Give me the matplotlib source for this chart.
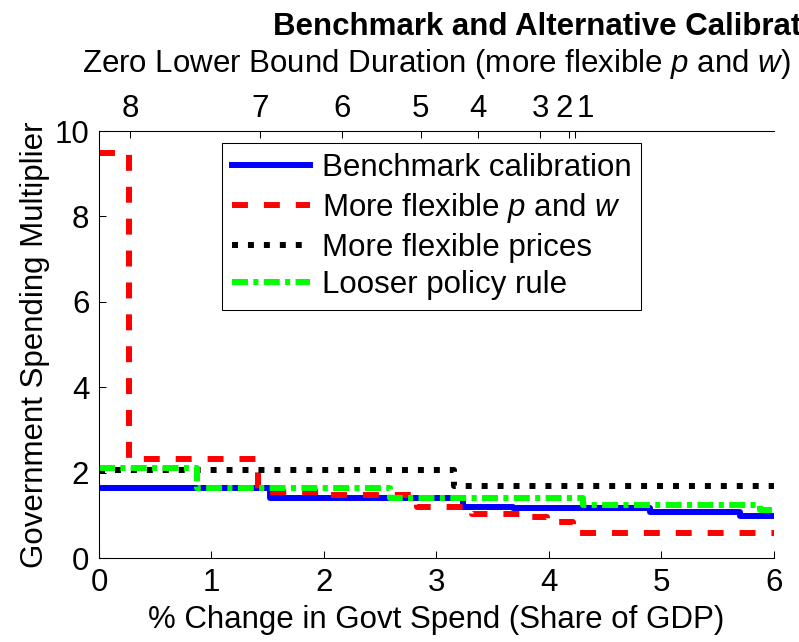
import matplotlib
matplotlib.use('Agg')
import matplotlib.pyplot as plt
import matplotlib.transforms as mtransforms

plt.rcParams['font.family'] = ['Liberation Sans', 'DejaVu Sans']
plt.rcParams['mathtext.fontset'] = 'custom'
plt.rcParams['mathtext.rm'] = 'Liberation Sans'
plt.rcParams['mathtext.it'] = 'Liberation Sans:italic'

# step data: x where each level starts (last x is the end), level values
bench_x = [0, 1.52, 3.24, 3.68, 4.90, 5.70, 6.0]
bench_y = [1.65, 1.40, 1.20, 1.16, 1.07, 0.99, 0.99]

flexpw_x = [0, 0.27, 1.41, 2.05, 2.83, 3.32, 3.80, 3.98, 4.21, 6.0]
flexpw_y = [9.49, 2.31, 1.55, 1.48, 1.19, 1.02, 0.96, 0.84, 0.59, 0.59]

flexp_x = [0, 3.16, 6.0]
flexp_y = [2.06, 1.68, 1.68]

loose_x = [0, 0.87, 2.59, 4.30, 5.88, 6.0]
loose_y = [2.10, 1.63, 1.40, 1.24, 1.12, 1.12]

# top axis: zero lower bound duration
zlb_pos = [0.28, 1.43, 2.16, 2.86, 3.37, 3.92, 4.18, 4.23]
zlb_lab = ['8', '7', '6', '5', '4', '3', '2', '1']

fs = 22.5
fig = plt.figure(figsize=(7.99, 6.42), dpi=100)
ax = fig.add_axes([0.1239, 0.1308, 0.8448, 0.6651])

lw = 4.3
ax.step(bench_x, bench_y, where='post', color=(0, 0, 1), lw=lw, label='Benchmark calibration')
ax.step(flexpw_x, flexpw_y, where='post', color=(1, 0, 0), lw=lw, linestyle=(0, (2.67, 2.67)),
        label='More flexible $p$ and $w$')
ax.step(flexp_x, flexp_y, where='post', color='k', lw=lw, linestyle=(0, (1.0, 1.67)),
        label='More flexible prices')
ax.step(loose_x, loose_y, where='post', color=(0, 1, 0), lw=lw, linestyle=(0, (2.67, 0.9, 0.85, 0.9)),
        label='Looser policy rule')

ax.set_xlim(0, 6)
ax.set_ylim(0, 10)
ax.set_xticks(range(0, 7))
ax.set_yticks(range(0, 11, 2))
ax.tick_params(direction='in', length=5, width=0.75, labelsize=fs, top=False, right=False, pad=7)
ax.spines['right'].set_visible(False)
for s in ax.spines.values():
    s.set_linewidth(0.75)

ax.set_xlabel('% Change in Govt Spend (Share of GDP)', fontsize=fs, labelpad=5)
ax.set_ylabel('Government Spending Multiplier', fontsize=fs, labelpad=3)

leg = ax.legend(loc='upper left', bbox_to_anchor=(0.182, 0.972), borderaxespad=0, fontsize=fs,
                handlelength=2.5, handletextpad=0.38, labelspacing=0.25, borderpad=0.32,
                fancybox=False, framealpha=1, edgecolor='k')
leg.get_frame().set_linewidth(0.75)

ax2 = ax.twiny()
ax2.set_xlim(0, 6)
ax2.set_xticks(zlb_pos)
ax2.set_xticklabels(zlb_lab)
ax2.tick_params(direction='in', length=5, width=0.75, labelsize=fs, pad=5)
ax2.spines['right'].set_visible(False)
for s in ax2.spines.values():
    s.set_linewidth(0.75)
# nudge the crowded "2" and "1" labels apart
lbls = ax2.get_xticklabels()
lbls[6].set_transform(lbls[6].get_transform() + mtransforms.ScaledTranslation(-5 / 100, 0, fig.dpi_scale_trans))
lbls[7].set_transform(lbls[7].get_transform() + mtransforms.ScaledTranslation(10 / 100, 0, fig.dpi_scale_trans))

fig.text(273 / 799, 1 - 35 / 642, 'Benchmark and Alternative Calibrations', fontsize=fs,
         fontweight='bold', ha='left', va='baseline')
fig.text(436.5 / 799, 1 - 72 / 642, 'Zero Lower Bound Duration (more flexible $p$ and $w$)',
         fontsize=fs, ha='center', va='baseline')

fig.savefig('out.png', dpi=100)
